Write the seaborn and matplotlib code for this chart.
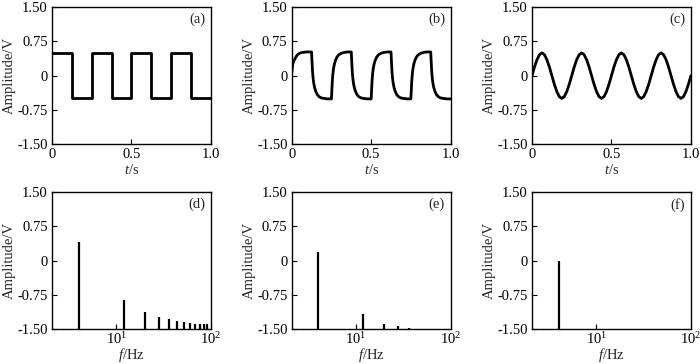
import numpy as np
import pandas as pd
import matplotlib
matplotlib.use("Agg")
import matplotlib.pyplot as plt
import matplotlib.ticker as mticker
import seaborn as sns

# ---------------- data ----------------
# (a) square wave
t_a = [0, 0.125, 0.125, 0.25, 0.25, 0.375, 0.375, 0.5, 0.5, 0.625, 0.625,
       0.75, 0.75, 0.875, 0.875, 1.0]
v_a = [0.5, 0.5, -0.5, -0.5, 0.5, 0.5, -0.5, -0.5, 0.5, 0.5, -0.5, -0.5,
       0.5, 0.5, -0.5, -0.5]

# (b) filtered square wave
t_b = [0, 0.004, 0.008, 0.013, 0.019, 0.028, 0.040, 0.055, 0.070, 0.090, 0.110, 0.125,
       0.128, 0.131, 0.134, 0.138, 0.144, 0.151, 0.160, 0.172, 0.187, 0.205, 0.225, 0.250,
       0.253, 0.256, 0.259, 0.263, 0.269, 0.276, 0.285, 0.297, 0.312, 0.330, 0.350, 0.375,
       0.378, 0.381, 0.384, 0.388, 0.394, 0.401, 0.410, 0.422, 0.437, 0.455, 0.475, 0.500,
       0.503, 0.506, 0.509, 0.513, 0.519, 0.526, 0.535, 0.547, 0.562, 0.580, 0.600, 0.625,
       0.628, 0.631, 0.634, 0.638, 0.644, 0.651, 0.660, 0.672, 0.687, 0.705, 0.725, 0.750,
       0.753, 0.756, 0.759, 0.763, 0.769, 0.776, 0.785, 0.797, 0.812, 0.830, 0.850, 0.875,
       0.878, 0.881, 0.884, 0.888, 0.894, 0.901, 0.910, 0.922, 0.937, 0.955, 0.975, 1.000]
v_b = [0.05, 0.18, 0.27, 0.32, 0.36, 0.42, 0.47, 0.50, 0.51, 0.52, 0.52, 0.52,
       0.30, 0.10, -0.03, -0.15, -0.26, -0.34, -0.41, -0.46, -0.49, -0.50, -0.51, -0.51,
       -0.30, -0.10, 0.03, 0.15, 0.26, 0.34, 0.41, 0.46, 0.49, 0.51, 0.52, 0.52,
       0.30, 0.10, -0.03, -0.15, -0.26, -0.34, -0.41, -0.46, -0.49, -0.50, -0.51, -0.51,
       -0.30, -0.10, 0.03, 0.15, 0.26, 0.34, 0.41, 0.46, 0.49, 0.51, 0.52, 0.52,
       0.30, 0.10, -0.03, -0.15, -0.26, -0.34, -0.41, -0.46, -0.49, -0.50, -0.51, -0.51,
       -0.30, -0.10, 0.03, 0.15, 0.26, 0.34, 0.41, 0.46, 0.49, 0.51, 0.52, 0.52,
       0.30, 0.10, -0.03, -0.15, -0.26, -0.34, -0.41, -0.46, -0.49, -0.50, -0.51, -0.51]

# (c) sine wave, sampled every 1/64 s
t_c = [k / 64 for k in range(65)]
v_c = [0.00, 0.19, 0.35, 0.46, 0.50, 0.46, 0.35, 0.19, 0.00, -0.19, -0.35, -0.46, -0.50, -0.46, -0.35, -0.19,
       0.00, 0.19, 0.35, 0.46, 0.50, 0.46, 0.35, 0.19, 0.00, -0.19, -0.35, -0.46, -0.50, -0.46, -0.35, -0.19,
       0.00, 0.19, 0.35, 0.46, 0.50, 0.46, 0.35, 0.19, 0.00, -0.19, -0.35, -0.46, -0.50, -0.46, -0.35, -0.19,
       0.00, 0.19, 0.35, 0.46, 0.50, 0.46, 0.35, 0.19, 0.00, -0.19, -0.35, -0.46, -0.50, -0.46, -0.35, -0.19,
       0.00]

# spectra
f_d = [4, 12, 20, 28, 36, 44, 52, 60, 68, 76, 84, 92]
a_d = [0.40, -0.86, -1.13, -1.23, -1.28, -1.33, -1.35, -1.37, -1.38, -1.40, -1.40, -1.40]
f_e = [4, 12, 20, 28, 36]
a_e = [0.20, -1.17, -1.38, -1.43, -1.47]
f_f = [4]
a_f = [-0.01]

panel_labels = ["(a)", "(b)", "(c)", "(d)", "(e)", "(f)"]
y_ticks = [-1.5, -0.75, 0, 0.75, 1.5]
y_ticklabels = ["-1.50", "-0.75", "0", "0.75", "1.50"]
t_ticks = [0, 0.5, 1.0]
t_ticklabels = ["0", "0.5", "1.0"]

# ---------------- style ----------------
sns.set_style("ticks")
plt.rcParams["font.family"] = ["Liberation Serif", "DejaVu Serif"]
plt.rcParams["mathtext.fontset"] = "custom"
plt.rcParams["mathtext.rm"] = "Liberation Serif"
plt.rcParams["mathtext.it"] = "Liberation Serif:italic"
plt.rcParams["axes.unicode_minus"] = False
plt.rcParams["font.size"] = 10.5

fig = plt.figure(figsize=(7.0, 3.64), dpi=100)

lefts = [0.0743, 0.4167, 0.760]
width = 0.2270
bottoms = [0.6044, 0.0962]
height = 0.3755

axes = []
for r in range(2):
    for c in range(3):
        ax = fig.add_axes([lefts[c], bottoms[r], width, height])
        axes.append(ax)

time_data = [(t_a, v_a), (t_b, v_b), (t_c, v_c)]
spec_data = [(f_d, a_d), (f_e, a_e), (f_f, a_f)]

for i, ax in enumerate(axes):
    for s in ax.spines.values():
        s.set_linewidth(1.0)
        s.set_color("black")
    ax.tick_params(direction="in", length=3.5, width=0.8, colors="black",
                   labelsize=10.5, pad=3)
    ax.set_ylim(-1.5, 1.5)
    ax.set_yticks(y_ticks)
    ax.set_yticklabels(y_ticklabels)
    ax.text(0.965, 0.91, panel_labels[i], transform=ax.transAxes,
            ha="right", va="center", fontsize=10.5)

for c in range(3):
    ax = axes[c]
    t, v = time_data[c]
    df = pd.DataFrame({"t": t, "v": v})
    sns.lineplot(data=df, x="t", y="v", ax=ax, estimator=None, sort=False,
                 color="black", linewidth=2.0)
    ax.set_xlim(0, 1.0)
    ax.set_xticks(t_ticks)
    ax.set_xticklabels(t_ticklabels)
    ax.set_xlabel(r"$t$/s", fontsize=10.5, labelpad=1)
    ax.set_ylabel("Amplitude/V", fontsize=10.5, labelpad=1)

for c in range(3):
    ax = axes[3 + c]
    f, a = spec_data[c]
    ax.set_xscale("log")
    ax.vlines(f, -1.5, a, colors="black", linewidth=1.6)
    ax.set_xlim(2.1, 100)
    ax.xaxis.set_major_locator(mticker.FixedLocator([10, 100]))
    ax.xaxis.set_major_formatter(mticker.FixedFormatter([r"$\mathdefault{10^{1}}$", r"$\mathdefault{10^{2}}$"]))
    ax.xaxis.set_minor_locator(mticker.NullLocator())
    ax.tick_params(axis="x", pad=1.5)
    ax.set_xlabel(r"$f$/Hz", fontsize=10.5, labelpad=-1)
    ax.set_ylabel("Amplitude/V", fontsize=10.5, labelpad=1)

fig.savefig("out.png", dpi=100)
